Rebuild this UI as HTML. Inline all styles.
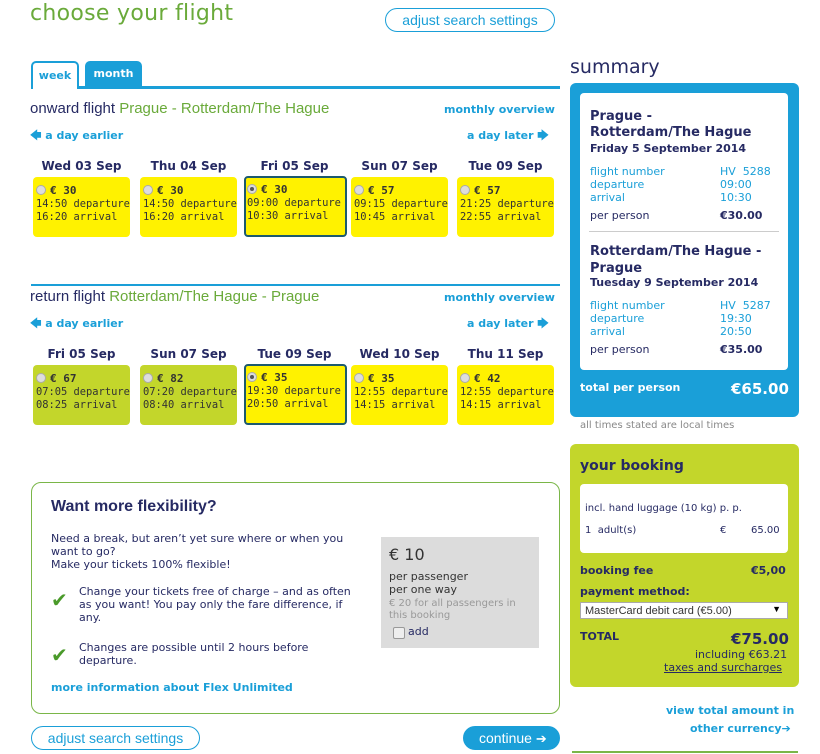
<!DOCTYPE html>
<html><head><meta charset="utf-8"><style>
*{margin:0;padding:0;box-sizing:border-box}
body{width:820px;height:754px;background:#fff;font-family:"DejaVu Sans",Verdana,sans-serif;font-size:11px;color:#262a63;position:relative;overflow:hidden}
.a{position:absolute;white-space:nowrap}
.blue{color:#1a9fd8}
.b{font-weight:bold}
.card{position:absolute;width:97px;height:60px;border-radius:4px;background:#fff200;font-family:"DejaVu Sans Mono","Liberation Mono",monospace;font-size:10.4px;color:#333;padding:7px 0 0 3px;line-height:13px;white-space:nowrap;overflow:hidden}
.card.g{background:#c3d62b}
.card.sel{border:2px solid #1d5a6e;padding:5px 0 0 1px}
.rad{display:inline-block;width:10px;height:10px;border-radius:50%;background:#ddd;border:1px solid #aaa;vertical-align:-1px;margin-right:4px;position:relative}
.rad.on::after{content:"";position:absolute;left:2px;top:2px;width:4px;height:4px;border-radius:50%;background:#555}
.card b{font-size:11px}
.dh{position:absolute;width:97px;text-align:center;font-weight:bold;font-size:12px;color:#262a63}
.btn{position:absolute;border:1px solid #1a9fd8;border-radius:12px;color:#1a9fd8;font-family:"Liberation Sans",Arial,sans-serif;font-size:14px;text-align:center}
</style></head><body>
<div class="a" style="left:30px;top:1px;font-family:'DejaVu Sans',sans-serif;font-size:22px;color:#6aaa3a;letter-spacing:0.3px">choose your flight</div>
<div class="btn" style="left:385px;top:8px;width:170px;height:24px;line-height:22px">adjust search settings</div>

<div class="a" style="left:31px;top:61px;width:48px;height:28px;border:2px solid #1a9fd8;border-bottom:none;border-radius:5px 5px 0 0;background:#fff;color:#1a9fd8;font-weight:bold;text-align:center;line-height:26px;z-index:2">week</div>
<div class="a" style="left:85px;top:61px;width:57px;height:27px;background:#1a9fd8;border-radius:5px 5px 0 0;color:#fff;font-weight:bold;text-align:center;line-height:26px">month</div>
<div class="a" style="left:31px;top:86px;width:529px;height:3px;background:#1a9fd8"></div>

<div class="a" style="left:30px;top:100px;font-family:'Liberation Sans',Arial,sans-serif;font-size:15px;color:#262a63">onward flight <span style="color:#6aaa3a">Prague - Rotterdam/The Hague</span></div>
<div class="a blue b" style="left:444px;top:103px">monthly overview</div>
<div class="a blue b" style="left:30px;top:127px">🡄 a day earlier</div>
<div class="a blue b" style="left:467px;top:127px">a day later 🡆</div>

<div class="dh" style="left:33px;top:159px">Wed 03 Sep</div>
<div class="dh" style="left:140px;top:159px">Thu 04 Sep</div>
<div class="dh" style="left:246px;top:159px">Fri 05 Sep</div>
<div class="dh" style="left:351px;top:159px">Sun 07 Sep</div>
<div class="dh" style="left:457px;top:159px">Tue 09 Sep</div>
<div class="card" style="left:33px;top:177px"><span class="rad"></span><b>€ 30</b><br>14:50 departure<br>16:20 arrival</div>
<div class="card" style="left:140px;top:177px"><span class="rad"></span><b>€ 30</b><br>14:50 departure<br>16:20 arrival</div>
<div class="card sel" style="left:244px;top:176px;width:103px;height:61px"><span class="rad on"></span><b>€ 30</b><br>09:00 departure<br>10:30 arrival</div>
<div class="card" style="left:351px;top:177px"><span class="rad"></span><b>€ 57</b><br>09:15 departure<br>10:45 arrival</div>
<div class="card" style="left:457px;top:177px"><span class="rad"></span><b>€ 57</b><br>21:25 departure<br>22:55 arrival</div>

<div class="a" style="left:31px;top:284px;width:529px;height:2px;background:#1a9fd8"></div>
<div class="a" style="left:30px;top:288px;font-family:'Liberation Sans',Arial,sans-serif;font-size:15px;color:#262a63">return flight <span style="color:#6aaa3a">Rotterdam/The Hague - Prague</span></div>
<div class="a blue b" style="left:444px;top:291px">monthly overview</div>
<div class="a blue b" style="left:30px;top:315px">🡄 a day earlier</div>
<div class="a blue b" style="left:467px;top:315px">a day later 🡆</div>

<div class="dh" style="left:33px;top:347px">Fri 05 Sep</div>
<div class="dh" style="left:140px;top:347px">Sun 07 Sep</div>
<div class="dh" style="left:246px;top:347px">Tue 09 Sep</div>
<div class="dh" style="left:351px;top:347px">Wed 10 Sep</div>
<div class="dh" style="left:457px;top:347px">Thu 11 Sep</div>
<div class="card g" style="left:33px;top:365px"><span class="rad"></span><b>€ 67</b><br>07:05 departure<br>08:25 arrival</div>
<div class="card g" style="left:140px;top:365px"><span class="rad"></span><b>€ 82</b><br>07:20 departure<br>08:40 arrival</div>
<div class="card sel" style="left:244px;top:364px;width:103px;height:61px"><span class="rad on"></span><b>€ 35</b><br>19:30 departure<br>20:50 arrival</div>
<div class="card" style="left:351px;top:365px"><span class="rad"></span><b>€ 35</b><br>12:55 departure<br>14:15 arrival</div>
<div class="card" style="left:457px;top:365px"><span class="rad"></span><b>€ 42</b><br>12:55 departure<br>14:15 arrival</div>

<div class="a" style="left:31px;top:482px;width:529px;height:232px;border:1px solid #7ab648;border-radius:10px"></div>
<div class="a b" style="left:51px;top:498px;font-family:'Liberation Sans',Arial,sans-serif;font-size:16px">Want more flexibility?</div>
<div class="a" style="left:51px;top:532px;line-height:13px">Need a break, but aren’t yet sure where or when you<br>want to go?<br>Make your tickets 100% flexible!</div>
<div class="a" style="left:51px;top:588px;color:#4a9a2a;font-size:20px;font-weight:bold">✔</div>
<div class="a" style="left:79px;top:585px;line-height:13px">Change your tickets free of charge – and as often<br>as you want! You pay only the fare difference, if<br>any.</div>
<div class="a" style="left:51px;top:643px;color:#4a9a2a;font-size:20px;font-weight:bold">✔</div>
<div class="a" style="left:79px;top:641px;line-height:13px">Changes are possible until 2 hours before<br>departure.</div>
<div class="a blue b" style="left:51px;top:681px">more information about Flex Unlimited</div>
<div class="a" style="left:381px;top:537px;width:158px;height:111px;background:#dcdcdc"></div>
<div class="a" style="left:389px;top:545px;font-size:16px;color:#333">€ 10</div>
<div class="a" style="left:389px;top:570px;line-height:13px;color:#333">per passenger<br>per one way</div>
<div class="a" style="left:389px;top:598px;line-height:12px;color:#999;font-size:10px">€ 20 for all passengers in<br>this booking</div>
<div class="a" style="left:393px;top:627px;width:12px;height:12px;border:1px solid #999;border-radius:2px;background:#eee"></div>
<div class="a" style="left:408px;top:625px;color:#262a63">add</div>

<div class="btn" style="left:31px;top:726px;width:169px;height:24px;line-height:22px">adjust search settings</div>
<div class="btn" style="left:463px;top:726px;width:97px;height:24px;line-height:22px;background:#1a9fd8;color:#fff;text-align:left;padding-left:15px">continue <span style="font-size:13px">➔</span></div>

<div class="a" style="left:570px;top:56px;font-family:'DejaVu Sans',sans-serif;font-size:19px;color:#262a63">summary</div>
<div class="a" style="left:570px;top:83px;width:229px;height:334px;background:#1a9fd8;border-radius:6px"></div>
<div class="a" style="left:580px;top:93px;width:208px;height:277px;background:#fff;border-radius:4px"></div>
<div class="a b" style="left:590px;top:109px;font-size:13px;line-height:16px">Prague -<br>Rotterdam/The Hague</div>
<div class="a b" style="left:590px;top:142px">Friday 5 September 2014</div>
<div class="a blue" style="left:590px;top:165px;line-height:13px">flight number<br>departure<br>arrival</div>
<div class="a blue" style="left:720px;top:165px;line-height:13px">HV&nbsp; 5288<br>09:00<br>10:30</div>
<div class="a" style="left:590px;top:209px">per person</div>
<div class="a b" style="left:720px;top:209px">€30.00</div>
<div class="a" style="left:589px;top:231px;width:190px;height:1px;background:#ccc"></div>
<div class="a b" style="left:590px;top:243px;font-size:13px;line-height:17px">Rotterdam/The Hague -<br>Prague</div>
<div class="a b" style="left:590px;top:276px">Tuesday 9 September 2014</div>
<div class="a blue" style="left:590px;top:299px;line-height:13px">flight number<br>departure<br>arrival</div>
<div class="a blue" style="left:720px;top:299px;line-height:13px">HV&nbsp; 5287<br>19:30<br>20:50</div>
<div class="a" style="left:590px;top:343px">per person</div>
<div class="a b" style="left:720px;top:343px">€35.00</div>
<div class="a b" style="left:580px;top:381px;color:#fff">total per person</div>
<div class="a b" style="left:731px;top:380px;color:#fff;font-size:15px">€65.00</div>
<div class="a" style="left:580px;top:420px;font-size:10px;color:#888">all times stated are local times</div>

<div class="a" style="left:570px;top:444px;width:229px;height:243px;background:#c3d62b;border-radius:6px"></div>
<div class="a b" style="left:580px;top:458px;font-size:14px">your booking</div>
<div class="a" style="left:580px;top:484px;width:208px;height:69px;background:#fff;border-radius:4px"></div>
<div class="a" style="left:585px;top:503px;font-size:10px">incl. hand luggage (10 kg) p. p.</div>
<div class="a" style="left:585px;top:525px;font-size:10px">1&nbsp; adult(s)</div>
<div class="a" style="left:720px;top:525px;font-size:10px">€</div>
<div class="a" style="left:751px;top:525px;font-size:10px">65.00</div>
<div class="a b" style="left:580px;top:564px">booking fee</div>
<div class="a b" style="left:751px;top:564px">€5,00</div>
<div class="a b" style="left:580px;top:585px">payment method:</div>
<div class="a" style="left:580px;top:602px;width:208px;height:17px;background:#fff;border:1px solid #aaa;font-family:'Liberation Sans',Arial,sans-serif;font-size:11px;color:#333;padding:2px 4px">MasterCard debit card (€5.00)<span style="position:absolute;right:6px;top:1px;font-size:9px;color:#000">▼</span></div>
<div class="a b" style="left:580px;top:630px">TOTAL</div>
<div class="a b" style="left:731px;top:630px;font-size:15px">€75.00</div>
<div class="a" style="left:695px;top:648px">including €63.21</div>
<div class="a" style="left:664px;top:661px;text-decoration:underline">taxes and surcharges</div>
<div class="a blue b" style="left:666px;top:704px">view total amount in</div>
<div class="a blue b" style="left:690px;top:722px">other currency➔</div>
<div class="a" style="left:572px;top:751px;width:226px;height:2px;background:#7ab648"></div>
</body></html>
